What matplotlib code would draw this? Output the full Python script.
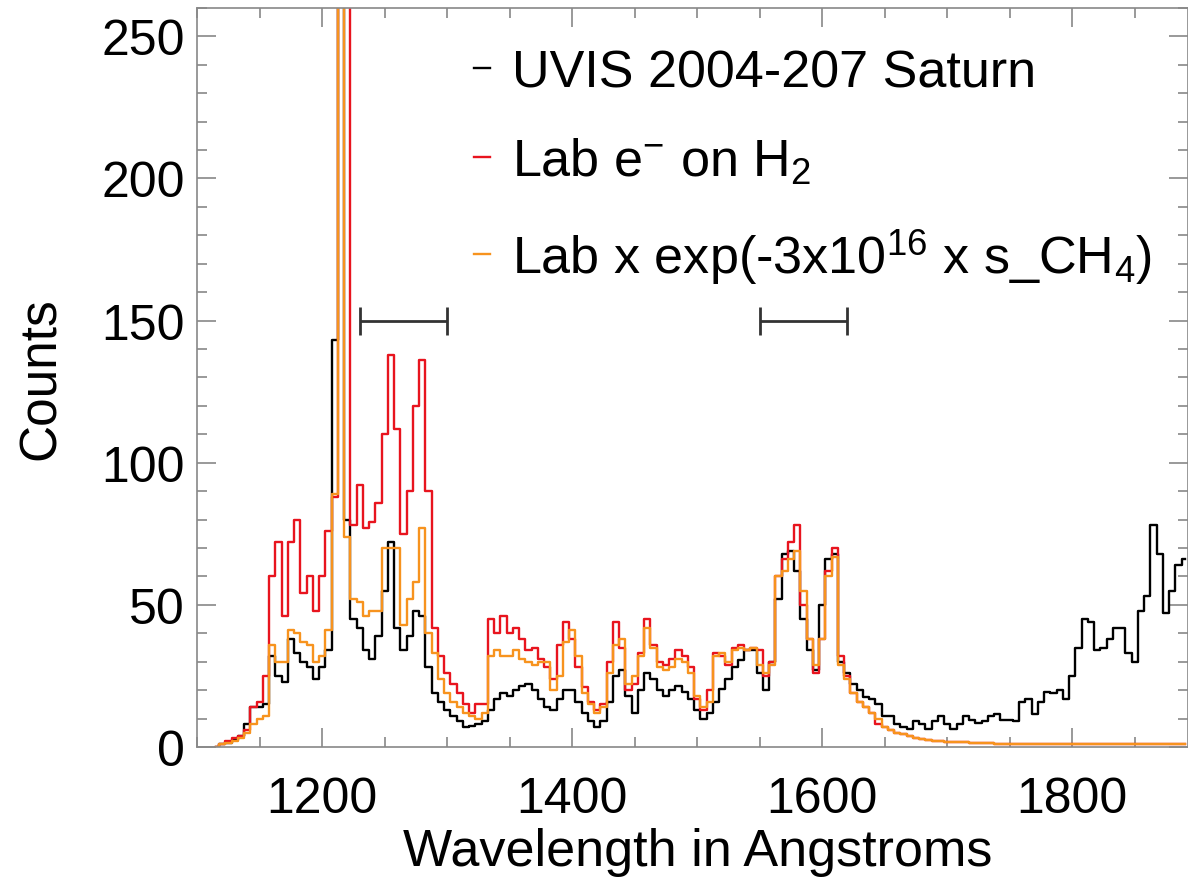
import numpy as np
import matplotlib.pyplot as plt
from matplotlib.ticker import MultipleLocator

plt.rcParams['font.family'] = ['Liberation Sans', 'DejaVu Sans']
plt.rcParams['mathtext.default'] = 'regular'

# wavelength bin centres in Angstroms (5 A bins)
wave = np.arange(1115, 1895, 5)

# Cassini UVIS auroral spectrum
saturn = [
    0, 1, 1.5, 2.5, 4, 8, 14, 14, 15, 32,
    25, 23, 38, 33, 30, 28, 24, 28, 34, 143,
    600, 80, 45, 42, 34, 31, 39, 55, 72, 42,
    34, 39, 48, 46, 28, 19, 16, 13, 11, 9,
    7, 7.5, 8, 9, 13, 17, 19, 18, 20, 21.5,
    22, 20, 17, 14, 13, 17, 20, 20, 16, 12,
    9, 7, 9, 16, 25, 27, 18, 12, 20, 26,
    24, 20, 18, 20, 21.5, 19.5, 17, 13, 10, 12,
    16, 20.5, 24, 28, 30.5, 34, 34, 26, 20, 30,
    52, 68, 69, 62, 45, 34, 27, 50, 66, 68,
    30, 26, 22, 20, 17.5, 17, 15, 11, 11, 8,
    7, 6.5, 9, 8, 6.5, 9, 11, 8, 6.5, 8,
    11, 9.5, 8.5, 9, 11, 11.5, 9.5, 9.5, 9, 16,
    17, 11.5, 16, 19.5, 19, 20, 17, 25, 35, 45,
    44, 34, 35, 38, 42, 42, 33, 30, 48, 53,
    78, 68, 47, 55, 64, 66,
]

# laboratory electron impact on H2
lab = [
    0, 1, 2, 3, 4, 6, 14, 16, 25, 60,
    72, 46, 72, 80, 54, 60, 48, 60, 76, 88,
    600, 600, 78, 92, 77, 79, 86, 110, 138, 112,
    75, 90, 120, 136, 90, 42, 32, 26, 22, 19,
    15, 12, 15, 15, 45, 40, 46, 40, 42, 38,
    34, 35, 31, 28, 24, 36, 44, 38, 28, 21,
    16, 13, 15, 30, 44, 35, 20, 22, 33, 45,
    36, 30, 29, 31, 34, 32, 28, 17, 13, 20,
    33, 32, 29, 35, 36, 34, 35, 34, 25, 30,
    60, 66, 72, 78, 50, 38, 26, 38, 62, 70,
    32, 25, 19, 16, 14, 12, 8, 7, 6, 5,
    4.5, 4, 3.3, 2.8, 2.5, 2.2, 2, 1.9, 1.8, 1.7,
    1.6, 1.5, 1.4, 1.3, 1.3, 1.2, 1.1, 1.1, 1, 1,
    1, 1, 1, 1, 1, 1, 1, 1, 1, 1,
    1, 1, 1, 1, 1, 1, 1, 1, 1, 1,
    1, 1, 1, 1, 1, 1,
]

# lab spectrum attenuated by a CH4 column
lab_ch4 = [
    0, 1, 1.5, 2, 3, 5, 8, 10, 11, 36,
    30, 30, 41, 40, 37, 36, 30, 32, 41, 89,
    600, 74, 52, 51, 46, 48, 48, 70, 70, 70,
    43, 52, 58, 77, 40, 33, 24, 19, 16, 14,
    12, 11, 10, 12, 32, 34, 32, 32, 34, 31,
    30, 29, 30, 30, 20, 25, 37, 41, 32, 19,
    15, 12, 14, 26, 36, 38, 22, 25, 32, 42,
    35, 28, 27, 28, 31, 30, 26, 18, 14, 16,
    32, 33, 30, 34, 35, 34, 35, 29, 26, 29,
    60, 62, 66, 69, 55, 38, 29, 38, 60, 67,
    29, 24, 19, 16, 14, 12, 10, 7, 6, 5,
    4.5, 4, 3.3, 2.8, 2.5, 2.2, 2, 1.9, 1.8, 1.7,
    1.6, 1.5, 1.4, 1.3, 1.3, 1.2, 1.1, 1.1, 1, 1,
    1, 1, 1, 1, 1, 1, 1, 1, 1, 1,
    1, 1, 1, 1, 1, 1, 1, 1, 1, 1,
    1, 1, 1, 1, 1, 1,
]

# wavelength windows marked with bars
win_lo = [1230, 1550]
win_hi = [1300, 1620]
win_level = 150

fig = plt.figure(figsize=(11.88, 8.79), dpi=100)
ax = fig.add_axes([0.166, 0.149, 0.834, 0.841])

ax.step(wave, saturn, where='mid', color='black', lw=1.7, label='UVIS 2004-207 Saturn')
ax.step(wave, lab, where='mid', color='#e8141e', lw=1.7, label=r'Lab e$^{-}$ on H$_2$')
ax.step(wave, lab_ch4, where='mid', color='#f7931e', lw=1.7,
        label=r'Lab x exp(-3x10$^{16}$ x s_CH$_4$)')

for lo, hi in zip(win_lo, win_hi):
    ax.errorbar((lo + hi) / 2, win_level, xerr=(hi - lo) / 2, fmt='none',
                ecolor='#333333', elinewidth=2, capsize=10, capthick=2)

ax.set_xlim(1100, 1892.5)
ax.set_ylim(0, 260)
ax.xaxis.set_major_locator(MultipleLocator(200))
ax.xaxis.set_minor_locator(MultipleLocator(50))
ax.yaxis.set_major_locator(MultipleLocator(50))
ax.yaxis.set_minor_locator(MultipleLocator(10))

ax.tick_params(which='both', direction='in', top=True, right=True,
               color='#888888', width=1.2, labelsize=36)
ax.tick_params(which='major', length=14)
ax.tick_params(which='minor', length=7)
ax.tick_params(axis='x', pad=21)
ax.tick_params(axis='y', pad=9)
for s in ax.spines.values():
    s.set_color('#888888')
    s.set_linewidth(1.2)

ax.set_xlabel('Wavelength in Angstroms', fontsize=37.5)
ax.set_ylabel('Counts', fontsize=37)
ax.xaxis.set_label_coords(0.505, -0.108)
ax.yaxis.set_label_coords(-0.133, 0.5)

ax.legend(loc='upper left', bbox_to_anchor=(0.279, 0.945), frameon=False,
          fontsize=37.5, handlelength=0.32, handletextpad=0.42,
          labelspacing=0.75, borderpad=0, borderaxespad=0)

fig.savefig('out.png', dpi=100)
